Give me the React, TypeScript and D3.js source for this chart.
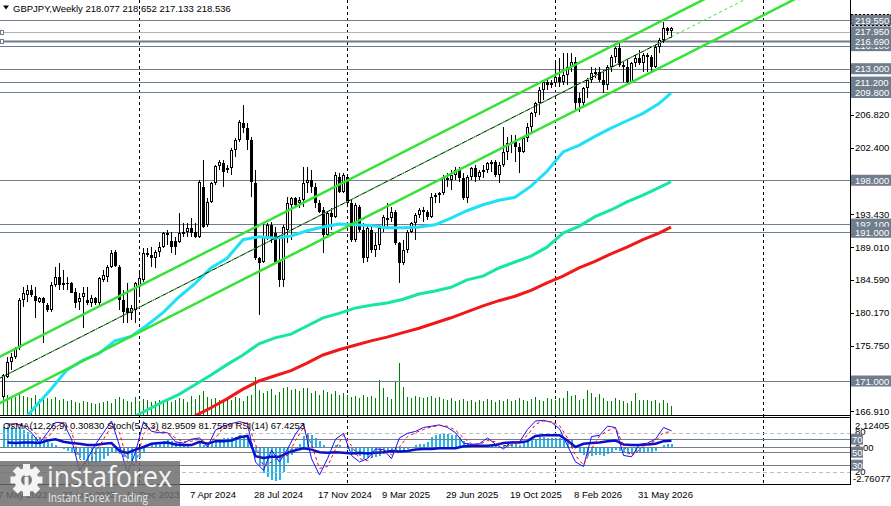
import React from "react";
import * as d3 from "d3";

// GBPJPY weekly
const firstWeek = "2023-05-14";
const headerText = "GBPJPY,Weekly  218.077 218.652 217.133 218.536";
const oscLegend = "OsMA(12,26,9) 0.30830  Stoch(5,3,3) 82.9509 81.7559  RSI(14) 67.4253";

// open, high, low, close
const candles: number[][] = [
  [168.90,172.00,168.67,171.81],[171.59,174.28,171.40,173.60],[173.60,174.72,172.48,174.28],[174.28,175.62,174.00,175.40],
  [175.40,182.12,175.17,181.90],[181.90,183.69,181.00,182.79],[182.57,183.92,181.67,183.24],[183.24,183.92,182.35,182.57],
  [182.43,183.69,179.43,181.81],[181.67,182.35,181.45,182.12],[182.12,182.35,176.07,181.45],[181.22,181.45,180.33,180.55],
  [180.55,184.36,180.33,183.92],[183.92,186.38,183.69,185.04],[185.04,186.83,183.24,183.92],[184.14,185.93,183.24,183.92],
  [184.14,185.04,183.24,184.00],[184.14,184.36,182.79,182.88],[183.02,183.47,180.78,181.45],[181.67,182.79,180.55,182.12],
  [182.35,183.69,178.09,182.79],[181.90,183.69,181.22,181.45],[181.45,182.57,181.00,182.12],[182.12,182.35,181.22,181.45],
  [181.45,185.04,181.00,184.81],[184.59,185.93,184.36,185.26],[185.04,186.60,184.36,186.38],[186.38,188.62,186.16,188.26],
  [188.40,188.62,186.38,186.47],[186.38,186.60,180.55,181.90],[181.90,183.24,178.76,180.33],[180.78,184.14,178.76,180.10],
  [180.10,181.22,179.21,180.78],[180.55,184.36,178.76,184.14],[183.69,185.93,182.57,184.81],[184.59,188.85,184.36,188.17],
  [187.95,188.85,187.73,188.26],[187.95,189.07,186.38,187.50],[187.50,188.62,186.16,188.40],[188.40,189.74,187.73,189.07],
  [189.07,191.09,188.85,190.86],[190.64,191.31,189.30,190.86],[189.88,191.09,188.17,189.07],[189.88,190.42,187.95,189.07],
  [189.74,193.55,189.52,190.86],[190.86,192.21,190.42,191.09],[191.09,192.21,190.42,191.54],[191.54,192.88,190.42,190.86],
  [191.09,192.21,190.19,190.42],[190.42,198.04,190.19,197.81],[197.14,200.73,191.54,191.76],[191.98,195.57,191.76,195.12],
  [195.12,197.81,194.90,197.59],[197.59,200.05,197.36,199.92],[199.92,200.73,199.38,200.50],[200.37,200.73,197.14,199.16],
  [199.38,200.05,198.93,199.60],[199.60,202.30,198.71,202.07],[202.07,203.64,201.17,203.42],[203.42,206.11,203.19,205.88],
  [205.66,208.12,204.31,204.98],[204.98,205.66,202.07,203.42],[203.42,203.86,195.79,197.81],[197.59,199.38,187.28,187.50],
  [187.50,187.73,179.88,186.83],[187.05,192.21,186.83,190.42],[190.42,192.21,189.97,191.98],[191.98,192.43,189.52,190.42],
  [190.86,191.76,186.83,187.05],[187.05,190.42,183.69,184.59],[184.59,191.98,183.69,191.76],[191.31,195.79,189.52,194.90],
  [194.67,195.79,189.97,195.57],[195.57,195.80,194.45,194.67],[194.90,195.80,194.20,195.35],[195.35,199.83,194.45,197.59],
  [197.59,199.83,196.24,198.03],[198.03,199.38,196.24,197.14],[197.14,197.59,194.23,194.90],[194.90,195.35,193.55,193.78],
  [194.00,194.45,188.17,190.64],[190.64,193.78,190.41,193.55],[193.55,194.23,191.31,193.10],[193.10,199.16,192.88,198.71],
  [198.48,198.93,196.24,196.47],[196.47,198.93,196.24,198.71],[198.48,198.71,194.45,194.90],[194.90,195.35,189.74,189.97],
  [189.97,194.90,189.74,194.67],[194.45,194.67,191.09,191.31],[191.31,192.21,186.83,187.50],[187.50,191.98,187.05,191.53],
  [191.31,191.76,188.17,188.62],[188.62,190.86,187.72,189.29],[189.29,191.98,188.62,191.53],[191.53,193.33,191.09,193.10],
  [192.66,194.90,191.76,192.88],[192.88,194.45,192.43,193.78],[193.78,194.00,189.29,189.52],[189.52,189.74,184.14,186.83],
  [186.83,189.97,186.60,188.62],[188.62,191.31,188.17,191.09],[191.09,192.43,190.86,192.21],[192.21,193.55,189.97,193.33],
  [193.33,194.23,192.88,194.00],[194.00,194.45,192.43,193.78],[193.78,194.00,192.66,193.10],[193.10,196.24,192.88,195.79],
  [195.79,196.24,194.90,196.02],[196.02,196.47,194.90,196.24],[196.24,198.71,196.02,198.26],[198.26,198.93,197.14,198.03],
  [198.03,199.38,196.69,198.71],[198.71,199.83,198.03,199.38],[199.38,199.83,197.81,198.26],[198.26,198.93,195.35,195.57],
  [195.57,198.71,194.90,198.48],[198.48,199.83,198.03,199.60],[199.60,200.05,197.81,198.48],[198.48,199.38,198.03,199.16],
  [199.16,200.05,198.26,199.38],[199.38,200.50,198.93,200.28],[200.28,200.73,199.16,200.50],[200.50,200.73,198.48,198.71],
  [198.71,200.50,197.59,200.05],[200.05,205.20,199.83,201.84],[201.84,203.86,200.72,202.96],[202.96,204.08,201.62,203.19],
  [203.19,204.08,200.50,202.51],[202.51,202.96,198.93,201.84],[201.84,203.86,201.62,203.64],[203.64,205.65,203.19,205.20],
  [205.20,207.22,204.53,207.00],[207.00,208.57,206.55,208.34],[208.34,210.58,206.77,210.14],[210.14,211.48,208.79,211.26],
  [211.26,211.48,210.14,210.81],[210.81,211.48,210.36,211.03],[211.03,214.17,210.58,211.93],[211.93,214.39,210.58,211.26],
  [211.26,215.07,210.81,212.15],[212.15,215.07,210.81,213.27],[213.27,215.07,212.60,213.95],[213.95,214.62,207.45,208.34],
  [209.01,209.69,207.22,208.34],[208.34,210.58,207.89,210.36],[210.36,211.71,209.01,211.48],[211.48,213.27,211.03,212.38],
  [212.38,213.05,211.71,212.60],[212.60,213.27,211.26,211.48],[211.48,212.83,209.69,210.81],[210.81,213.50,210.14,213.27],
  [213.27,214.84,212.60,214.62],[214.62,215.96,213.72,215.74],[215.74,216.41,213.27,213.50],[213.50,213.95,211.26,213.27],
  [213.27,214.17,211.03,211.26],[211.26,213.95,211.03,213.72],[213.72,214.84,213.27,214.39],[214.39,215.52,213.50,213.72],
  [213.72,215.07,212.60,214.84],[214.84,215.07,212.60,214.62],[214.62,214.84,212.60,213.27],[213.27,216.19,213.05,215.96],
  [215.96,217.08,215.07,216.86],[216.86,219.33,216.41,218.43],[218.43,218.65,217.53,218.08],[218.077,218.652,217.133,218.536],
];

// tick volume, thousands
const volumes = [
  18,20,17,18,22,19,18,17,20,16, 18,17,16,18,15,16,14,15,13,12, 14,13,12,11,12,13,14,12,16,18,
  16,14,13,18,14,16,15,13,14,15, 14,16,13,15,17,16,13,19,16,20, 24,18,16,17,15,14,16,15,18,17,
  14,19,20,38,25,22,24,26,20,23, 27,28,25,26,24,27,27,22,24,20, 25,23,21,24,20,22,20,18,19,17,
  20,18,19,17,35,27,18,16,33,52, 28,18,17,19,18,17,18,19,17,18, 16,15,17,14,15,16,14,15,13,15,
  14,16,15,13,15,14,16,14,15,17, 15,14,16,18,15,14,17,16,15,17, 17,24,19,20,15,16,25,22,18,21,
  17,14,14,17,15,14,12,14,22,15, 15,15,14,15,12,15,12,9,
];

// moving averages, sampled every 4th week (last point = last week)
const maBars = d3.range(0, 165, 4).concat(167);
const maFast = [
  162.5,165.0,167.5,169.9,172.5,173.8,174.7,176.4,177.0,178.5,180.2,182.3,184.1,186.2,187.5,190.0,190.4,190.2,190.5,191.2,
  191.7,192.1,192.0,191.9,191.6,191.6,191.7,192.0,192.9,193.9,194.7,195.3,195.7,197.2,199.2,201.8,202.7,203.9,205.0,206.0,
  207.0,208.3,209.7,
];
const maMid = [
  166.0,167.1,168.2,169.2,170.5,171.8,173.2,174.5,176.0,176.8,177.3,178.4,179.5,180.1,180.8,181.2,181.5,182.0,182.7,183.1,
  183.6,184.6,185.1,186.2,187.0,187.8,189.0,190.9,191.8,193.1,194.0,195.1,196.0,197.0,197.8,
];
const maSlow = [
  166.3,167.4,168.6,169.9,171.0,171.7,172.4,173.4,174.5,175.2,175.8,176.4,176.9,177.5,178.1,178.8,179.5,180.3,181.1,181.8,
  182.4,183.2,184.2,185.1,186.2,187.1,188.1,189.0,190.0,190.9,191.7,
];

// equidistant channel anchors: [week, price]
const channelUpper = [[0, 174.47], [167, 220.07]];
const channelMiddle = [[0, 171.6], [167, 217.25]];
const channelLower = [[0, 168.24], [167, 213.89]];

const levelPrices = [219.55, 217.95, 216.1, 216.69, 213.0, 211.2, 209.8, 198.0, 192.1, 191.0, 171.0];
const priceTicks = [206.82, 202.4, 193.43, 189.01, 184.59, 180.17, 175.75, 166.91];

// oscillators
const osma = [
  1.6,1.6,1.55,1.5,1.5,1.35,1.2,1.0,0.85,0.75, 0.6,0.45,0.35,0.2,0.05,-0.1,-0.2,-0.35,-0.55,-0.75,
  -0.9,-1.05,-1.15,-1.15,-1.05,-0.85,-0.6,-0.35,-0.3,-0.45, -0.65,-0.85,-1.0,-0.95,-0.75,-0.35,0.05,0.2,0.3,0.4,
  0.55,0.6,0.55,0.45,0.4,0.3,0.2,0.1,0.05,0.35, 0.25,0.3,0.45,0.6,0.7,0.75,0.75,0.8,0.85,0.95,
  0.9,0.75,0.35,-0.4,-1.3,-1.9,-2.2,-2.4,-2.5,-2.4, -1.8,-1.1,-0.5,-0.1,0.3,0.9,1.1,1.0,0.75,0.5,
  0.2,0.1,0.05,0.2,0.2,0.1,-0.1,-0.4,-0.5,-0.6, -0.8,-0.75,-0.75,-0.7,-0.6,-0.45,-0.3,-0.25,-0.3,-0.4,
  -0.3,-0.1,0.05,0.2,0.3,0.3,0.45,0.8,0.95,1.05, 1.1,1.05,1.0,0.95,0.85,0.5,0.35,0.25,0.2,0.15,
  0.15,0.2,0.2,0.15,0.1,0.25,0.3,0.3,0.3,0.25, 0.35,0.45,0.6,0.7,0.8,0.8,0.75,0.75,0.75,0.75,
  0.7,0.65,0.6,0.15,-0.35,-0.55,-0.6,-0.6,-0.55,-0.55, -0.6,-0.45,-0.3,-0.15,-0.2,-0.3,-0.45,-0.45,-0.4,-0.4,
  -0.35,-0.35,-0.4,-0.2,0.05,0.2,0.3,0.3083,
];
const oscBars = d3.range(1, 168, 2);
const stochMain = [
  93,94,90,80,64,80,96,95,70,22, 40,62,80,98,60,18,50,97,82,80, 80,66,64,70,72,58,84,90,94,97,
  94,35,22,53,35,55,78,94,40,15, 40,70,79,45,35,40,55,54,40,72, 79,82,88,90,92,88,80,64,62,63,
  72,62,55,66,66,85,98,99,96,86, 60,35,28,74,76,90,88,45,43,62, 64,70,88,82.95,
];
const stochSignal = [
  90,94,92,86,72,72,88,96,82,40, 30,50,70,90,80,35,30,78,90,82, 80,72,66,67,70,64,72,88,92,95,
  96,62,28,35,42,45,68,88,62,25, 28,55,76,60,40,37,48,55,46,58, 74,80,85,89,91,90,84,72,63,62,
  68,66,60,61,66,76,93,98,97,91, 72,45,30,55,75,83,88,60,44,54, 63,67,80,81.76,
];
const rsi = [
  65,64,65,65,64,68,70,66,64,63, 61,61,63,64,52,49,54,58,63,64, 65,62,61,61,66,63,67,67,68,73,
  75,44,41,43,43,49,53,56,54,50, 49,50,49,48,49,48,49,50,52,51, 52,54,55,55,56,56,56,59,60,60,
  60,61,64,65,65,67,75,76,76,76, 68,58,63,64,65,67,68,62,61,61, 62,63,67,67.43,
];
const oscLevels = [70, 50, 30];
const oscDashed = [80, 20];

const dateTicks = ["2023-05-07","2023-08-27","2023-12-17","2024-04-07","2024-07-28","2024-11-17",
  "2025-03-09","2025-06-29","2025-10-19","2026-02-08","2026-05-31"];
const yearSeparators = ["2024-01-07","2025-01-05","2026-01-04","2027-01-03"];

const FONT = "'Liberation Sans', Arial, sans-serif";
const FS = 9.5;
const SLATE = "#6f7d8d";
const AXIS_X = 850;
const MAIN_BOTTOM = 415;

const weekIndex = (d: string) => Math.round((Date.parse(d) - Date.parse(firstWeek)) / (7 * 864e5));
const fmtDate = d3.utcFormat("%-d %b %Y");

export default function App() {
  const x = d3.scaleLinear().domain([0, 1]).range([3, 7]);
  const y = d3.scaleLinear().domain([171, 219.55]).range([381, 20]);
  const yOsc = d3.scaleLinear().domain([0, 100]).range([484.7, 419.7]);
  const yOsma = d3.scaleLinear().domain([-2.76077, 2.12405]).range([484.7, 419.7]);
  const yVol = d3.scaleLinear().domain([0, 100]).range([MAIN_BOTTOM, MAIN_BOTTOM - 100]);
  const px = (i: number) => Math.round(x(i));

  const maLine = d3.line<number>().x((_, k) => 0).y(() => 0);
  const maPath = (vals: number[], offset: number) =>
    d3.line<number>().x((_, k) => x(maBars[k + offset])).y((v) => y(v))(vals) || "";

  const chanLine = (a: number[][], from: number, to: number) => {
    const s = d3.scaleLinear().domain([a[0][0], a[1][0]]).range([a[0][1], a[1][1]]);
    return d3.line<number>().x((b) => x(b)).y((b) => y(s(b)))([from, to]) || "";
  };

  const oscPath = (vals: number[]) =>
    d3.line<number>().x((_, k) => x(oscBars[k]) + 0.5).y((v) => yOsc(v))(vals) || "";

  const fmt3 = d3.format(".3f");

  return (
    <svg width={891} height={506} style={{ position: "fixed", left: 0, top: 0, background: "#fff" }}
      fontFamily={FONT} fontSize={FS}>
      <defs>
        <clipPath id="mainClip"><rect x={0} y={0} width={AXIS_X} height={MAIN_BOTTOM} /></clipPath>
        <clipPath id="oscClip"><rect x={0} y={418} width={AXIS_X} height={67} /></clipPath>
      </defs>
      <rect x={0} y={0} width={891} height={506} fill="#fff" />

      {/* period separators */}
      {yearSeparators.map((d) => (
        <line key={d} x1={px(weekIndex(d)) + 0.5} x2={px(weekIndex(d)) + 0.5} y1={0} y2={485}
          stroke="#000" strokeDasharray="3,3" />
      ))}

      <g clipPath="url(#mainClip)">
        {/* volumes */}
        {volumes.map((v, i) => (
          <line key={i} x1={px(i) + 0.5} x2={px(i) + 0.5} y1={MAIN_BOTTOM} y2={yVol(v)} stroke="#008000" />
        ))}
        {/* horizontal levels */}
        {levelPrices.map((p) => (
          <line key={p} x1={0} x2={AXIS_X} y1={Math.round(y(p)) + 0.5} y2={Math.round(y(p)) + 0.5}
            stroke={p === 217.95 ? "#b4b4b4" : SLATE} strokeWidth={p === 216.69 ? 2 : 1} />
        ))}
        {[217.95, 216.69].map((p) => (
          <rect key={p} x={0.5} y={Math.round(y(p)) - 1.5} width={3} height={4} fill="#fff" stroke={SLATE} />
        ))}
        {/* candles */}
        <g shapeRendering="crispEdges">
          {candles.map(([o, h, l, c], i) => {
            const cx = px(i);
            const top = Math.round(y(Math.max(o, c)));
            const bot = Math.round(y(Math.min(o, c)));
            const bh = Math.max(1, bot - top);
            return (
              <g key={i}>
                <line x1={cx + 0.5} x2={cx + 0.5} y1={y(h)} y2={y(l)} stroke="#000" />
                {c >= o ? (
                  <rect x={cx - 0.5} y={top + 0.5} width={2} height={Math.max(0.5, bh - 1)} fill="#fff" stroke="#000" />
                ) : (
                  <rect x={cx - 1} y={top} width={3} height={bh} fill="#000" />
                )}
              </g>
            );
          })}
        </g>
        {/* moving averages */}
        <path d={maPath(maSlow, 12)} fill="none" stroke="#f01818" strokeWidth={3} />
        <path d={maPath(maMid, 8)} fill="none" stroke="#16e6a4" strokeWidth={3} />
        <path d={maPath(maFast, 0)} fill="none" stroke="#1fe0f6" strokeWidth={3} />
        {/* channel */}
        <path d={chanLine(channelUpper, -2, 230)} fill="none" stroke="#36e236" strokeWidth={2.5} />
        <path d={chanLine(channelLower, -2, 230)} fill="none" stroke="#36e236" strokeWidth={2.5} />
        <path d={chanLine(channelMiddle, -2, 167)} fill="none" stroke="#000" strokeWidth={1} />
        <path d={chanLine(channelMiddle, -2, 167)} fill="none" stroke="#36e236" strokeWidth={1} strokeDasharray="4,4" />
        <path d={chanLine(channelMiddle, 167, 230)} fill="none" stroke="#36e236" strokeWidth={1} strokeDasharray="3,3" />
      </g>

      {/* panel frames */}
      <line x1={0} x2={AXIS_X} y1={415.5} y2={415.5} stroke="#000" />
      <line x1={0} x2={AXIS_X} y1={417.5} y2={417.5} stroke="#000" />
      <line x1={0} x2={AXIS_X} y1={484.5} y2={484.5} stroke="#000" />
      <line x1={AXIS_X + 0.5} x2={AXIS_X + 0.5} y1={0} y2={485} stroke="#000" />

      {/* oscillator panel */}
      <g clipPath="url(#oscClip)">
        <g shapeRendering="crispEdges">
          {osma.map((v, i) => (
            <rect key={i} x={px(i) - 0.5} width={2} y={Math.min(yOsma(0), yOsma(v))}
              height={Math.abs(yOsma(v) - yOsma(0))} fill="#22b6ef" />
          ))}
        </g>
        {oscDashed.map((v) => (
          <line key={v} x1={0} x2={AXIS_X} y1={Math.round(yOsc(v)) + 0.5} y2={Math.round(yOsc(v)) + 0.5}
            stroke="#bdbdbd" strokeDasharray="4,3" />
        ))}
        {oscLevels.map((v) => (
          <line key={v} x1={0} x2={AXIS_X} y1={Math.round(yOsc(v)) + 0.5} y2={Math.round(yOsc(v)) + 0.5} stroke={SLATE} />
        ))}
        <line x1={0} x2={AXIS_X} y1={Math.round(yOsma(0)) - 0.5} y2={Math.round(yOsma(0)) - 0.5} stroke={SLATE} />
        <path d={oscPath(rsi)} fill="none" stroke="#0a10c8" strokeWidth={2.5} />
        <path d={oscPath(stochMain)} fill="none" stroke="#1010ff" strokeWidth={1} />
        <path d={oscPath(stochSignal)} fill="none" stroke="#ff0000" strokeWidth={1} strokeDasharray="3,3" />
      </g>

      {/* header texts */}
      <path d="M3,5.5 L9,5.5 L6,9.5 Z" fill="#000" />
      <text x={13} y={11.5} fill="#000">{headerText}</text>
      <text x={3} y={429} fill="#000">{oscLegend}</text>

      {/* price axis */}
      {priceTicks.map((p) => (
        <g key={p}>
          <line x1={AXIS_X + 1} x2={AXIS_X + 4} y1={Math.round(y(p)) + 0.5} y2={Math.round(y(p)) + 0.5} stroke="#000" />
          <text x={855} y={y(p) + 3.5} fill="#000">{fmt3(p)}</text>
        </g>
      ))}
      {levelPrices.map((p) => (
        <g key={p}>
          <rect x={851} y={y(p) - 5.5} width={40} height={11} fill={SLATE}
            stroke={p === 219.55 ? "#000" : "none"} strokeDasharray="2,2" />
          <text x={855} y={y(p) + 3.5} fill="#fff">{fmt3(p)}</text>
        </g>
      ))}

      {/* oscillator axis */}
      <text x={855} y={428.5} fill="#000">2.12405</text>
      <text x={855} y={435} fill="#000">80</text>
      <text x={855} y={450.5} fill="#000">0.00</text>
      <text x={855} y={475} fill="#000">20</text>
      <text x={853} y={481.5} fill="#000">-2.76077</text>
      {oscLevels.map((v) => (
        <g key={v}>
          <rect x={851} y={yOsc(v) - 5.5} width={12} height={11} fill={SLATE} />
          <text x={852} y={yOsc(v) + 3.5} fill="#fff">{v}</text>
        </g>
      ))}

      {/* time axis */}
      {dateTicks.map((d) => (
        <text key={d} x={px(weekIndex(d)) - 1} y={498} fill="#000">{fmtDate(new Date(d + "T00:00:00Z"))}</text>
      ))}

      {/* watermark */}
      <g>
        <rect x={0} y={461} width={180} height={45} fill="rgb(108,108,108)" opacity={0.84} />
        <g fill="#f4f4f4">
          {[0, 45, 90, 135].map((a) => (
            <rect key={a} x={23} y={464} width={7} height={32} transform={`rotate(${a} 26.5 480)`} />
          ))}
          <circle cx={26.5} cy={480} r={12} />
        </g>
        <circle cx={26.5} cy={480} r={5.5} fill="rgb(120,120,120)" />
        <rect x={24.5} y={477} width={4} height={16} fill="#f4f4f4" />
        <circle cx={26.5} cy={474} r={2.5} fill="#f4f4f4" />
        <text x={47} y={487} fill="#f4f4f4" fontFamily="'Open Sans', sans-serif" fontSize={29}
          textLength={125} lengthAdjust="spacingAndGlyphs">instaforex</text>
        <text x={48} y={501.5} fill="#e8e8e8" fontFamily="'Open Sans', sans-serif" fontSize={12}
          textLength={100} lengthAdjust="spacingAndGlyphs">Instant Forex Trading</text>
      </g>
    </svg>
  );
}
